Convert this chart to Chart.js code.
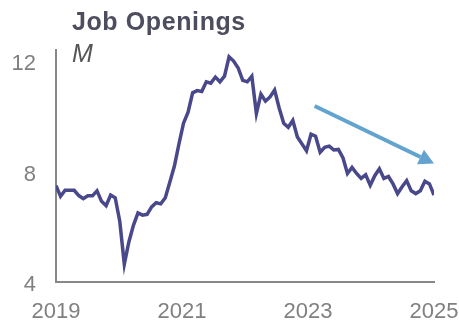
<!DOCTYPE html>
<html>
<head>
<meta charset="utf-8">
<script src="https://cdn.jsdelivr.net/npm/chart.js@4.4.1/dist/chart.umd.min.js"></script>
<style>
  body { margin: 0; background: #fff; }
  #wrap { position: relative; width: 459px; height: 322px; }
  #chart { position: absolute; left: 0; top: 0; }
  .title { position: absolute; left: 72px; top: 9px; font: bold 25px "Liberation Sans", Arial, sans-serif; letter-spacing: 0.6px; line-height: 1; color: #4d4d5d; white-space: nowrap; }
  .unit { position: absolute; left: 72px; top: 41px; font: italic 25px "Liberation Sans", Arial, sans-serif; line-height: 1; color: #555; }
</style>
</head>
<body>
<div id="wrap">
  <canvas id="chart" width="459" height="322"></canvas>
  <div class="title">Job Openings</div>
  <div class="unit">M</div>
</div>
<script>
// 职位空缺（百万），月度，2019 年 1 月起
const openings = [
  7.49, 7.10, 7.32, 7.32, 7.32, 7.13, 7.02, 7.12, 7.12, 7.30, 6.92, 6.76,
  7.15, 7.05, 6.20, 4.65, 5.45, 6.05, 6.50, 6.42, 6.45, 6.72, 6.87, 6.83,
  7.05, 7.62, 8.20, 9.00, 9.75, 10.15, 10.85, 10.93, 10.90, 11.25, 11.20, 11.42,
  11.25, 11.45, 12.15, 12.00, 11.75, 11.30, 11.25, 11.45, 10.10, 10.80, 10.55, 10.70,
  10.95, 10.30, 9.75, 9.60, 9.85, 9.25, 9.00, 8.75, 9.35, 9.28, 8.70, 8.88,
  8.92, 8.78, 8.80, 8.50, 7.93, 8.15, 7.93, 7.75, 7.88, 7.50, 7.85, 8.10,
  7.75, 7.82, 7.55, 7.20, 7.45, 7.67, 7.30, 7.20, 7.30, 7.65, 7.55, 7.15
];
const monthIndex = openings.map((_, i) => i);
const yearLabels = ['2019', '2021', '2023', '2025'];
const yTicks = [4, 8, 12];
// 趋势箭头（月序号, 数值）
const arrowStart = [56.8, 10.37];
const arrowEnd = [83, 8.29];

const colors = {
  line: '#48488a',
  arrow: '#62a3cf',
  axis: '#888888',
  tick: '#808080'
};

const arrowPlugin = {
  id: 'trendArrow',
  afterDatasetsDraw(chart) {
    const { ctx, scales } = chart;
    const x1 = scales.x.getPixelForValue(arrowStart[0]);
    const y1 = scales.y.getPixelForValue(arrowStart[1]);
    const x2 = scales.x.getPixelForValue(arrowEnd[0]);
    const y2 = scales.y.getPixelForValue(arrowEnd[1]);
    const ang = Math.atan2(y2 - y1, x2 - x1);
    const headLen = 15, headW = 8;
    const bx = x2 - headLen * Math.cos(ang);
    const by = y2 - headLen * Math.sin(ang);
    ctx.save();
    ctx.strokeStyle = colors.arrow;
    ctx.fillStyle = colors.arrow;
    ctx.lineWidth = 4;
    ctx.beginPath();
    ctx.moveTo(x1, y1);
    ctx.lineTo(bx, by);
    ctx.stroke();
    ctx.beginPath();
    ctx.moveTo(x2, y2);
    ctx.lineTo(bx + headW * Math.sin(ang), by - headW * Math.cos(ang));
    ctx.lineTo(bx - headW * Math.sin(ang), by + headW * Math.cos(ang));
    ctx.closePath();
    ctx.fill();
    ctx.restore();
  }
};

const tickFont = { family: '"Liberation Sans", Arial, sans-serif', size: 22 };

new Chart(document.getElementById('chart'), {
  type: 'line',
  data: {
    labels: monthIndex,
    datasets: [{
      data: openings.map((v, i) => ({ x: monthIndex[i], y: v })),
      borderColor: colors.line,
      borderWidth: 3.5,
      pointRadius: 0,
      tension: 0,
      fill: false
    }]
  },
  options: {
    responsive: false,
    animation: false,
    layout: { padding: { top: 50, right: 25, left: 0, bottom: 0 } },
    plugins: { legend: { display: false }, tooltip: { enabled: false } },
    scales: {
      x: {
        type: 'linear',
        min: 0,
        max: openings.length - 1,
        display: false
      },
      years: {
        type: 'category',
        labels: yearLabels,
        position: 'bottom',
        offset: false,
        grid: { display: false, drawTicks: false },
        border: { display: true, color: colors.axis, width: 2 },
        ticks: { color: colors.tick, font: tickFont, padding: 17, autoSkip: false, maxRotation: 0 },
        afterFit(scale) {
          scale.height = 40;
          scale.paddingLeft = 0;
          scale.paddingRight = 0;
        }
      },
      y: {
        type: 'linear',
        min: 4,
        max: 12.4,
        grid: { display: false, drawTicks: false },
        border: { display: true, color: colors.axis, width: 2 },
        ticks: { color: colors.tick, font: tickFont, padding: 20, labelOffset: 3 },
        afterBuildTicks(scale) { scale.ticks = yTicks.map(v => ({ value: v })); },
        afterFit(scale) {
          scale.width = 56;
          scale.paddingTop = 0;
          scale.paddingBottom = 0;
        }
      }
    }
  },
  plugins: [arrowPlugin]
});
</script>
</body>
</html>
